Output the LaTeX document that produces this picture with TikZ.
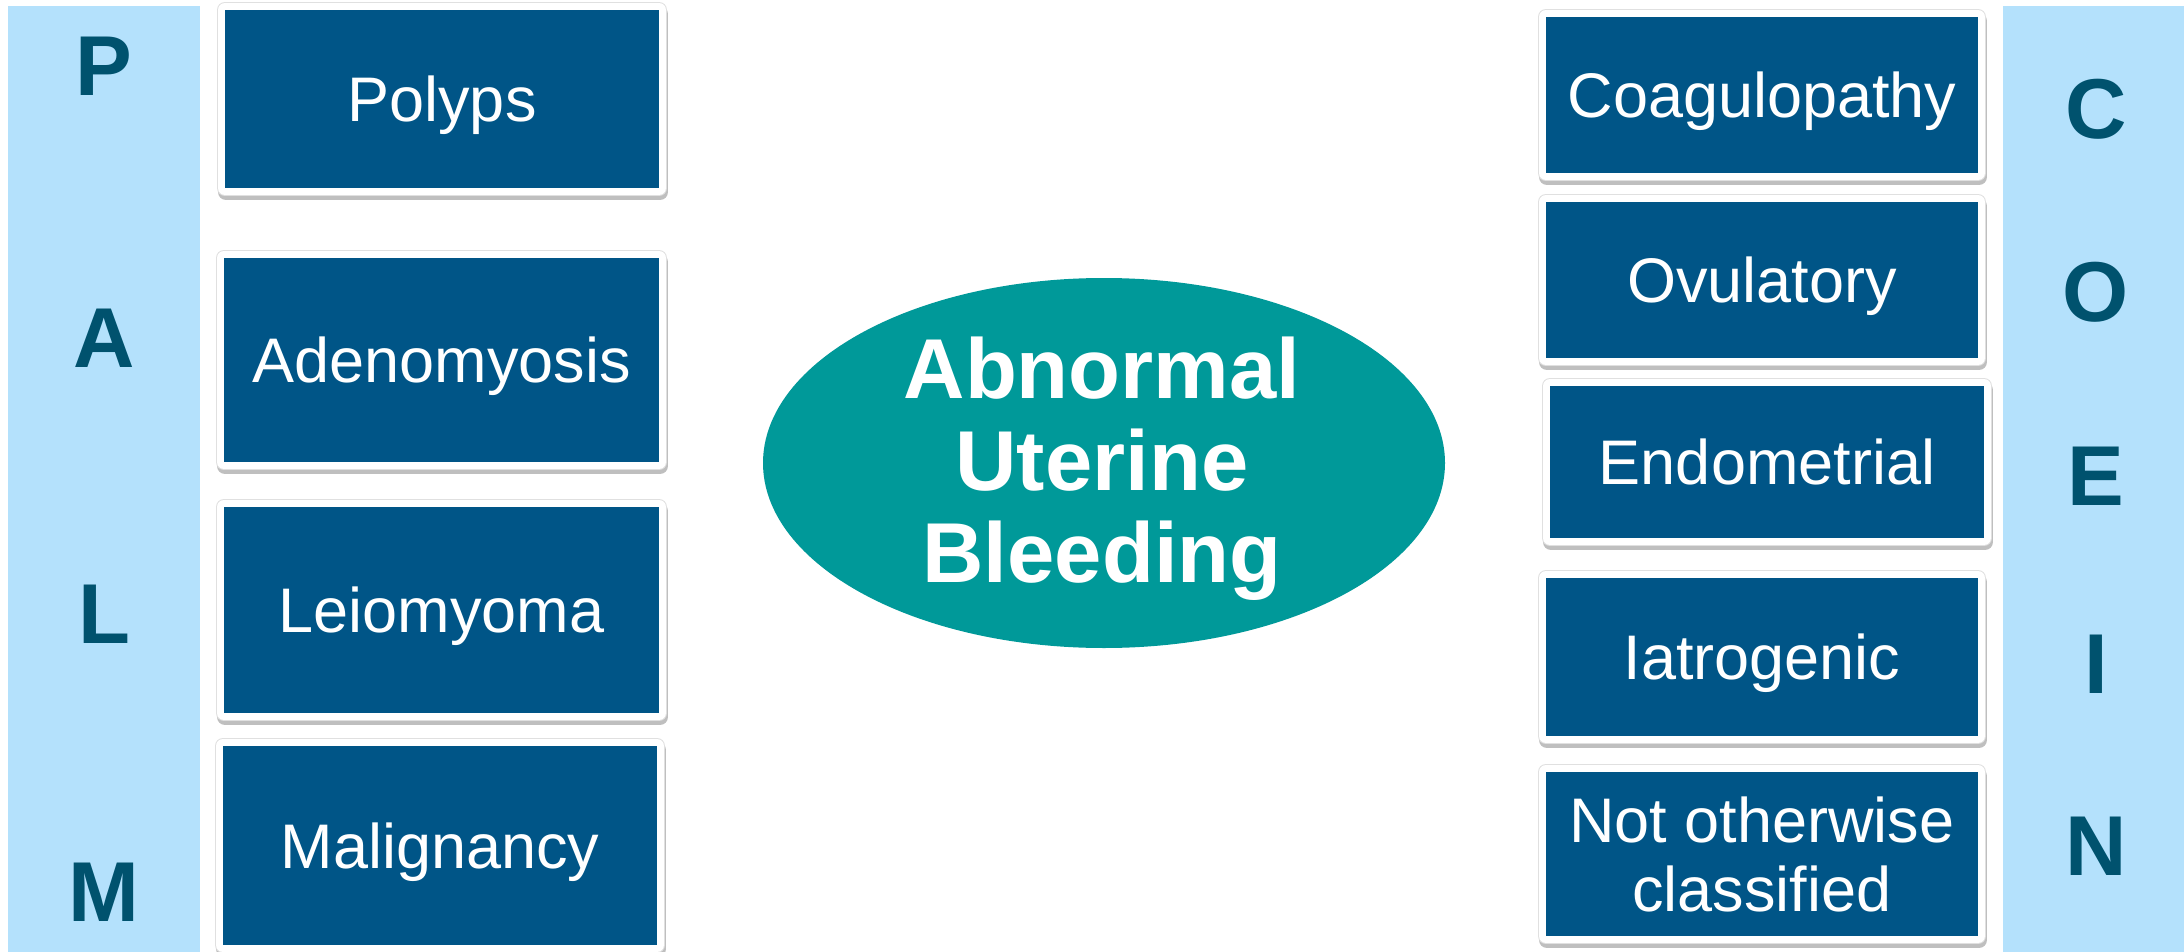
\documentclass[tikz,border=0pt]{standalone}
\usepackage{fontspec}
\setmainfont{Liberation Sans}
\definecolor{barblue}{RGB}{180,225,252}
\definecolor{boxblue}{RGB}{0,85,135}
\definecolor{lettercol}{RGB}{0,82,110}
\definecolor{ovalteal}{RGB}{0,153,153}
\tikzset{
  catbox/.style={fill=boxblue, inner sep=0pt, text=white, align=center,
    font=\fontsize{63}{69}\selectfont, line join=round, text depth=0pt,
    preaction={draw=black, draw opacity=0.25, line width=16pt, transform canvas={xshift=1pt,yshift=-4pt}},
    preaction={draw=black!12, line width=16pt},
    preaction={draw=white, line width=14pt}},
  letter/.style={text=lettercol, font=\fontsize{85}{85}\selectfont\bfseries, inner sep=0pt},
  bar/.style={fill=barblue, draw=none}
}
\begin{document}
\begin{tikzpicture}[x=1pt,y=-1pt]
\useasboundingbox[fill=white] (0,0) rectangle (2184,952);
% side bars
\path[bar] (8,6) rectangle (200,952);
\path[bar] (2003,6) rectangle (2184,952);
% PALM letters
\node[letter] (P) at (104,66) {P};
\node[letter] (A) at (104,338) {A};
\node[letter] (L) at (104,614) {L};
\node[letter] (M) at (104,892) {M};
% COEIN letters
\node[letter] (C) at (2096,109) {C};
\node[letter] (O) at (2096,292) {O};
\node[letter] (E) at (2096,476) {E};
\node[letter] (I) at (2096,664) {I};
\node[letter] (N) at (2096,846) {N};
% left boxes
\node[catbox, minimum width=434pt, minimum height=178pt] (polyps) at (442,99) {Polyps};
\node[catbox, minimum width=435pt, minimum height=204pt] (adeno) at (441.5,360) {Adenomyosis};
\node[catbox, minimum width=435pt, minimum height=206pt] (leio) at (441.5,610) {Leiomyoma};
\node[catbox, minimum width=434pt, minimum height=199pt] (malig) at (440,845.5) {Malignancy};
% right boxes
\node[catbox, minimum width=432pt, minimum height=156pt] (coag) at (1762,95) {Coagulopathy};
\node[catbox, minimum width=432pt, minimum height=156pt] (ovul) at (1762,280) {Ovulatory};
\node[catbox, minimum width=434pt, minimum height=152pt] (endo) at (1767,462) {Endometrial};
\node[catbox, minimum width=432pt, minimum height=158pt] (iatro) at (1762,657) {Iatrogenic};
\node[catbox, minimum width=432pt, minimum height=164pt] (noc) at (1762,854) {Not otherwise\\classified};
% central ellipse
\fill[ovalteal] (1104,463) ellipse [x radius=341, y radius=185];
\node[text=white, align=center, inner sep=0pt, font=\fontsize{85}{92}\selectfont\bfseries] (aub) at (1102,469) {Abnormal\\Uterine\\Bleeding};
\end{tikzpicture}
\end{document}
